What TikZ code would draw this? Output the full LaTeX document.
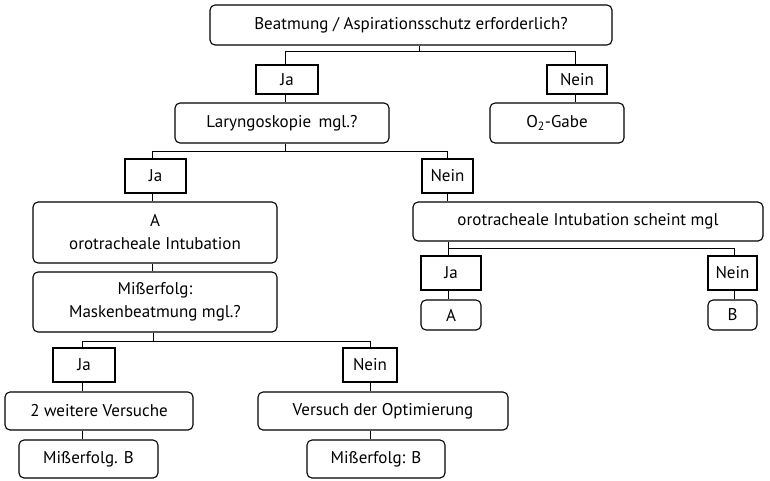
\documentclass[tikz,border=0pt]{standalone}
\usepackage{fontspec}
\setmainfont{PT Sans}
\begin{document}
\begin{tikzpicture}[x=1pt,y=-1pt,
  every node/.style={font=\fontsize{17}{23}\selectfont, inner sep=0pt, align=center},
  rbox/.style={draw, line width=1.1pt, rounded corners=5pt},
  sbox/.style={draw, line width=1.1pt},
  conn/.style={line width=0.9pt}]
\useasboundingbox (0,0) rectangle (770,480);
% nodes
\node[rbox, minimum width=402, minimum height=40] (top) at (411,25) {Beatmung / Aspirationsschutz erforderlich?};
\node[sbox, minimum width=62, minimum height=29] (ja1) at (287,79.5) {Ja};
\node[sbox, minimum width=60, minimum height=29] (nein1) at (577,79.5) {Nein};
\node[rbox, minimum width=214, minimum height=40] (lary) at (282,123) {Laryngoskopie\, mgl.?};
\node[rbox, minimum width=134, minimum height=40] (o2) at (557,123) {O\textsubscript{2}-Gabe};
\node[sbox, minimum width=61, minimum height=34] (ja2) at (155.5,176) {Ja};
\node[sbox, minimum width=51, minimum height=34] (nein2) at (447.5,176) {Nein};
\node[rbox, minimum width=244, minimum height=61] (aint) at (155,232.5) {A\\orotracheale Intubation};
\node[rbox, minimum width=244, minimum height=60] (miss) at (155,302) {Mißerfolg:\\Maskenbeatmung mgl.?};
\node[rbox, minimum width=350, minimum height=39] (oro) at (588,221.5) {orotracheale Intubation scheint mgl};
\node[sbox, minimum width=60, minimum height=34] (ja3) at (451,273) {Ja};
\node[rbox, minimum width=60, minimum height=30] (a3) at (451,315) {A};
\node[sbox, minimum width=49, minimum height=34] (nein3) at (732.5,273) {Nein};
\node[rbox, minimum width=49, minimum height=30] (b3) at (732.5,315) {B};
\node[sbox, minimum width=62, minimum height=34] (ja4) at (84,365) {Ja};
\node[sbox, minimum width=54, minimum height=34] (nein4) at (370,365) {Nein};
\node[rbox, minimum width=188, minimum height=38] (zwei) at (99,411) {2 weitere Versuche};
\node[rbox, minimum width=250, minimum height=38] (vers) at (383,411) {Versuch der Optimierung};
\node[rbox, minimum width=139, minimum height=38] (mb1) at (88.5,459) {Mißerfolg. B};
\node[rbox, minimum width=138, minimum height=38] (mb2) at (376,459) {Mißerfolg: B};
% connectors
\draw[conn] ([xshift=8]top.south) -- ++(0,6) coordinate (t1);
\draw[conn] ([xshift=-2]ja1.north) |- (t1) -| ([xshift=-2]nein1.north);
\draw[conn] ([xshift=-2]ja1.south) -- ([xshift=-2]ja1.south |- lary.north);
\draw[conn] ([xshift=-2]nein1.south) -- ([xshift=-2]nein1.south |- o2.north);
\draw[conn] ([xshift=3]lary.south) -- ++(0,8) coordinate (t2);
\draw[conn] ([xshift=-3]ja2.north) |- (t2) -| (nein2.north);
\draw[conn] ([xshift=-3]ja2.south) -- ([xshift=-3]ja2.south |- aint.north);
\draw[conn] ([xshift=-3]aint.south) -- ([xshift=-3]aint.south |- miss.north);
\draw[conn] (nein2.south) -- (nein2.south |- oro.north);
\draw[conn] ([xshift=-3]ja3.north) -- ([xshift=-3]ja3.north |- oro.south);
\draw[conn] ([xshift=-3]ja3.north) ++(0,-7) -| ([xshift=2]nein3.north);
\draw[conn] ([xshift=-3]ja3.south) -- ([xshift=-3]ja3.south |- a3.north);
\draw[conn] ([xshift=2]nein3.south) -- ([xshift=2]nein3.south |- b3.north);
\draw[conn] ([xshift=-2]miss.south) -- ++(0,9) coordinate (t3);
\draw[conn] ([xshift=-2]ja4.north) |- (t3) -| (nein4.north);
\draw[conn] ([xshift=-2]ja4.south) -- ([xshift=-2]ja4.south |- zwei.north);
\draw[conn] ([xshift=-2]zwei.south -| ja4) -- ([xshift=-2]ja4.south |- mb1.north);
\draw[conn] (nein4.south) -- (nein4.south |- vers.north);
\draw[conn] (nein4.south |- vers.south) -- (nein4.south |- mb2.north);
\end{tikzpicture}
\end{document}
